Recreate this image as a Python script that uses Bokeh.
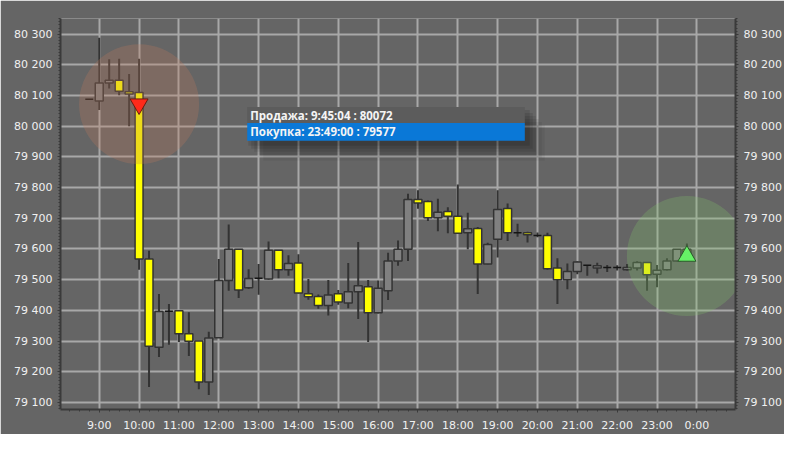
from bokeh.plotting import figure
from bokeh.models import Range1d, LinearAxis, FixedTicker, BoxAnnotation, Label, ColumnDataSource
from bokeh.embed import file_html
from bokeh.resources import INLINE

# ---- data (15-minute candles, x in hours of the day) ----
times = [8.75, 9.0, 9.25, 9.5, 9.75, 10.0, 10.25, 10.5, 10.75, 11.0, 11.25, 11.5, 11.75,
         12.0, 12.25, 12.5, 12.75, 13.0, 13.25, 13.5, 13.75, 14.0, 14.25, 14.5, 14.75,
         15.0, 15.25, 15.5, 15.75, 16.0, 16.25, 16.5, 16.75, 17.0, 17.25, 17.5, 17.75,
         18.0, 18.25, 18.5, 18.75, 19.0, 19.25, 19.5, 19.75, 20.0, 20.25, 20.5, 20.75,
         21.0, 21.25, 21.5, 21.75, 22.0, 22.25, 22.5, 22.75, 23.0, 23.25, 23.5, 23.75]
opens = [80088, 80082, 80141, 80150, 80112, 80110, 79567, 79280, 79397, 79399, 79324, 79300, 79167,
         79311, 79497, 79599, 79474, 79505, 79502, 79596, 79532, 79554, 79454, 79445, 79416,
         79454, 79424, 79461, 79477, 79392, 79464, 79561, 79599, 79761, 79755, 79702, 79722,
         79707, 79653, 79667, 79551, 79632, 79732, 79653, 79653, 79644, 79644, 79538, 79500,
         79527, 79547, 79538, 79540, 79540, 79532, 79538, 79556, 79518, 79532, 79561, 79599]
highs = [80088, 80288, 80218, 80220, 80170, 80220, 79594, 79453, 79421, 79400, 79394, 79300, 79330,
         79567, 79680, 79600, 79534, 79551, 79624, 79597, 79580, 79583, 79502, 79452, 79499,
         79466, 79554, 79623, 79499, 79497, 79588, 79628, 79780, 79791, 79758, 79764, 79736,
         79810, 79718, 79672, 79620, 79791, 79748, 79682, 79656, 79654, 79653, 79570, 79553,
         79560, 79548, 79555, 79548, 79547, 79551, 79560, 79558, 79548, 79570, 79600, 79618]
lows = [80088, 80053, 80123, 80101, 80000, 79532, 79150, 79248, 79288, 79297, 79251, 79143, 79124,
        79311, 79464, 79440, 79470, 79451, 79500, 79505, 79513, 79455, 79435, 79405, 79383,
        79418, 79407, 79372, 79297, 79390, 79434, 79545, 79561, 79731, 79691, 79658, 79651,
        79650, 79599, 79453, 79550, 79572, 79626, 79640, 79621, 79638, 79532, 79421, 79469,
        79518, 79513, 79520, 79525, 79530, 79530, 79530, 79464, 79475, 79530, 79560, 79580]
closes = [80088, 80141, 80150, 80114, 80105, 79567, 79283, 79396, 79397, 79324, 79299, 79167, 79310,
          79497, 79599, 79466, 79504, 79505, 79596, 79532, 79553, 79457, 79444, 79416, 79450,
          79427, 79461, 79480, 79392, 79472, 79561, 79599, 79761, 79750, 79702, 79720, 79707,
          79651, 79666, 79551, 79615, 79729, 79653, 79653, 79646, 79644, 79536, 79500, 79527,
          79558, 79547, 79545, 79540, 79540, 79540, 79556, 79516, 79531, 79561, 79599, 79586]

signal_times = [10.0, 23.75]
signal_prices = [80072, 79577]
signal_texts = ["Продажа: 9:45:04 : 80072", "Покупка:  23:49:00 : 79577"]

y_ticks = [79100, 79200, 79300, 79400, 79500, 79600, 79700, 79800, 79900, 80000, 80100, 80200, 80300]
y_labels = ["79 100", "79 200", "79 300", "79 400", "79 500", "79 600", "79 700", "79 800",
            "79 900", "80 000", "80 100", "80 200", "80 300"]
x_ticks = [9, 10, 11, 12, 13, 14, 15, 16, 17, 18, 19, 20, 21, 22, 23, 24]
x_labels = ["9:00", "10:00", "11:00", "12:00", "13:00", "14:00", "15:00", "16:00", "17:00",
            "18:00", "19:00", "20:00", "21:00", "22:00", "23:00", "0:00"]

# ---- styling ----
BG = "#656565"
GRID = "#a8a8a8"
AX = "#3a3a3a"
LBL = "#f0f0f0"
FONT = "DejaVu Sans"

XR = (8.028, 24.97)
YR = (79077, 80351)
W, H = 784, 434
FL, FR, FT, FB = 60, 736, 18, 411   # frame edges in figure pixels


def X(px):
    return XR[0] + (px - FL) * (XR[1] - XR[0]) / (FR - FL)


def Y(py):
    return YR[1] - (py - FT) * (YR[1] - YR[0]) / (FB - FT)


p = figure(width=W, height=H, output_backend="svg", toolbar_location=None,
           x_range=Range1d(*XR), y_range=Range1d(*YR),
           min_border_left=FL, min_border_right=W - FR, min_border_top=FT, min_border_bottom=H - FB,
           background_fill_color=BG, border_fill_color=BG, outline_line_color=None)

yt = FixedTicker(ticks=y_ticks, minor_ticks=list(range(79080, 80360, 10)))
xt = FixedTicker(ticks=x_ticks, minor_ticks=[8 + i * 0.25 for i in range(0, 69)])
p.yaxis.ticker = yt
p.xaxis.ticker = xt
p.ygrid.ticker = yt
p.xgrid.ticker = xt
p.yaxis.major_label_overrides = dict(zip(y_ticks, y_labels))
p.xaxis.major_label_overrides = dict(zip(x_ticks, x_labels))

right = LinearAxis(ticker=yt, major_label_overrides=dict(zip(y_ticks, y_labels)))
p.add_layout(right, "right")

for ax in [p.xaxis[0], p.yaxis[0], right]:
    ax.axis_line_color = AX
    ax.axis_line_width = 2
    ax.major_tick_line_color = AX
    ax.major_tick_in = 0
    ax.major_tick_out = 3
    ax.minor_tick_line_color = AX
    ax.minor_tick_in = 0
    ax.minor_tick_out = 2
    ax.major_label_text_color = LBL
    ax.major_label_text_font = FONT
    ax.major_label_text_font_size = "11px"
p.yaxis[0].major_label_standoff = 5
right.major_label_standoff = 5
p.xaxis[0].major_label_standoff = 6

p.grid.grid_line_color = GRID
p.grid.grid_line_width = 2

tops = [max(o, c) for o, c in zip(opens, closes)]
bottoms = [min(o, c) for o, c in zip(opens, closes)]
fills = ["#ffff00" if o > c else "#808080" for o, c in zip(opens, closes)]
lines = ["#151515" if o == c else "#333333" for o, c in zip(opens, closes)]

src = ColumnDataSource(dict(t=times, h=highs, l=lows, top=tops, bottom=bottoms, fill=fills, line=lines))
p.segment(x0="t", y0="l", x1="t", y1="h", line_color="#333333", line_width=2, source=src)
p.vbar(x="t", width=0.2, top="top", bottom="bottom", fill_color="fill", line_color="line",
       line_width=1.5, source=src)

# highlight circles
p.scatter(x=signal_times, y=signal_prices, marker="circle", size=120,
          fill_color=["#c07a5c", "#80c26c"], fill_alpha=0.28, line_color=None)
# signal markers
p.scatter(x=signal_times[:1], y=signal_prices[:1], marker="inverted_triangle", size=18,
          fill_color="#ff2a1a", line_color="#6a1a10", line_width=1)
p.scatter(x=signal_times[1:], y=signal_prices[1:], marker="triangle", size=18,
          fill_color="#66f066", line_color="#2a5a2a", line_width=1)

# info box with soft shadow
for i, a in enumerate([0.10, 0.09, 0.08, 0.07, 0.06, 0.05]):
    d = 3 * (i + 1)
    p.add_layout(BoxAnnotation(left=X(245 + d), right=X(527 + d), top=Y(107 + d),
                               bottom=Y(143 + d), fill_color="black", fill_alpha=a,
                               line_color=None))
p.add_layout(BoxAnnotation(left=X(247), right=X(525), top=Y(107), bottom=Y(123),
                           fill_color="#5c5c5c", fill_alpha=1, line_color=None))
p.add_layout(BoxAnnotation(left=X(247), right=X(525), top=Y(123), bottom=Y(141),
                           fill_color="#0a78d7", fill_alpha=1, line_color=None))
for txt, py in zip(signal_texts, [115.5, 132]):
    p.add_layout(Label(x=X(250), y=Y(py), text=txt, text_baseline="middle", text_align="left",
                       text_color="#f4f4f4", text_font="Open Sans", text_font_size="11.5px",
                       text_font_style="bold"))

open("out.html", "w").write(file_html(p, INLINE))
